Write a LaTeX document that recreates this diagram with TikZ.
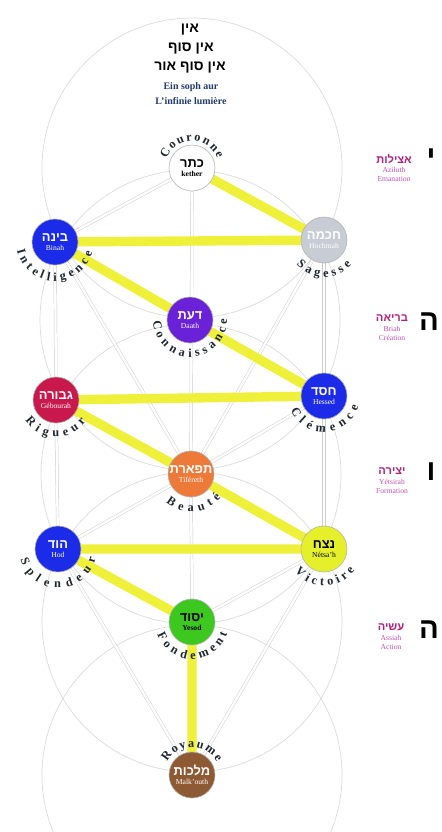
\documentclass[tikz,border=0pt]{standalone}
\usepackage{fontspec}
\setmainfont{Liberation Serif}
\newfontfamily\hebfont[Script=Hebrew]{Liberation Sans}
\usetikzlibrary{decorations.text,backgrounds}
\TeXXeTstate=1
\definecolor{sblue}{HTML}{1C2BE8}
\definecolor{sviolet}{HTML}{6A22D8}
\definecolor{scrimson}{HTML}{C8184C}
\definecolor{sorange}{HTML}{EE7A3A}
\definecolor{syellow}{HTML}{E6F02A}
\definecolor{sgreen}{HTML}{3CC81E}
\definecolor{sbrown}{HTML}{8E5A34}
\definecolor{sgray}{HTML}{C8CCD4}
\definecolor{flash}{HTML}{EEF03A}
\definecolor{lblgray}{HTML}{1E2630}
\definecolor{worldmag}{HTML}{B0207A}
\definecolor{worldpink}{HTML}{C050B0}
\definecolor{einblue}{HTML}{1E3A6A}
\newcommand\heb[1]{{\hebfont\beginR #1\endR}}
\newcommand\lblfont{\fontsize{10.5}{10.5}\selectfont\bfseries\color{lblgray}}
\newcommand\arclabel[5]{\path[decorate,decoration={text along path,text align={fit to path},text={|\lblfont|#5}}] ([shift={(#2:#4)}]#1.center) arc[start angle=#2,end angle=#3,radius=#4];}

\begin{document}
\begin{tikzpicture}[
    x=0.03cm, y=0.03cm,
    sefira/.style={circle, draw=gray!60, line width=0.5pt, minimum size=1.38cm, inner sep=0pt, align=center, font=\fontsize{6.5}{7.5}\selectfont, text=white},
    halo/.style={draw=gray!28, line width=0.6pt},
    channel/.style={draw=gray!40, double=white, double distance=2pt, line width=0.4pt},
    bolt/.style={line width=8pt, color=flash, line join=round},
    world/.style={align=center, font=\fontsize{6.5}{8}\selectfont, text=worldpink},
    yhvh/.style={font=\fontsize{25}{25}\selectfont\bfseries}
]
    \useasboundingbox (0,0) rectangle (441,-832);

    % Ein soph
    \node[font=\fontsize{12}{12}\selectfont\bfseries] (ain) at (190,-30) {\heb{אין}};
    \node[font=\fontsize{12}{12}\selectfont\bfseries] (ainsof) at (191,-49) {\heb{אין סוף}};
    \node[font=\fontsize{12}{12}\selectfont\bfseries] (ainsofaur) at (190,-68) {\heb{אין סוף אור}};
    \node[font=\fontsize{8.5}{9}\selectfont\bfseries, text=einblue] (einsoph) at (191,-87) {Ein soph aur};
    \node[font=\fontsize{8.5}{9}\selectfont\bfseries, text=einblue] (lumiere) at (191,-101) {L'infinie lumière};

    % Sefirot
    \node[sefira, fill=white, text=black] (kether) at (192,-168) {{\fontsize{11}{12}\selectfont\bfseries\heb{כתר}}\\\textbf{kether}};
    \node[sefira, fill=sgray] (chokmah) at (324,-240) {{\fontsize{11}{12}\selectfont\bfseries\heb{חכמה}}\\Hochmah};
    \node[sefira, fill=sblue] (binah) at (55,-242) {{\fontsize{11}{12}\selectfont\bfseries\heb{בינה}}\\Binah};
    \node[sefira, fill=sviolet] (daath) at (190,-320) {{\fontsize{11}{12}\selectfont\bfseries\heb{דעת}}\\Daath};
    \node[sefira, fill=scrimson] (gevourah) at (56,-400) {{\fontsize{11}{12}\selectfont\bfseries\heb{גבורה}}\\Gébourah};
    \node[sefira, fill=sblue] (hessed) at (324,-396) {{\fontsize{11}{12}\selectfont\bfseries\heb{חסד}}\\Hessed};
    \node[sefira, fill=sorange] (tiferet) at (191,-474) {{\fontsize{11}{12}\selectfont\bfseries\heb{תפארת}}\\Tiféreth};
    \node[sefira, fill=sblue] (hod) at (58,-549) {{\fontsize{11}{12}\selectfont\bfseries\heb{הוד}}\\Hod};
    \node[sefira, fill=syellow, text=black] (netsah) at (324,-549) {{\fontsize{11}{12}\selectfont\bfseries\heb{נצח}}\\Nétsa'h};
    \node[sefira, fill=sgreen, text=black] (yesod) at (192,-622) {{\fontsize{11}{12}\selectfont\bfseries\heb{יסוד}}\\\textbf{Yesod}};
    \node[sefira, fill=sbrown] (malkuth) at (192,-775) {{\fontsize{11}{12}\selectfont\bfseries\heb{מלכות}}\\Malk'outh};

    % Names round the sefirot
    \arclabel{kether}{160}{20}{27}{Couronne}
    \arclabel{binah}{193}{344}{39}{Intelligence}
    \arclabel{chokmah}{222}{318}{37}{Sagesse}
    \arclabel{daath}{182}{362}{37}{Connaissance}
    \arclabel{gevourah}{214}{324}{37}{Rigueur}
    \arclabel{hessed}{203}{343}{36}{Clémence}
    \arclabel{tiferet}{229}{322}{38}{Beauté}
    \arclabel{hod}{196}{346}{39}{Splendeur}
    \arclabel{netsah}{218}{326}{37}{Victoire}
    \arclabel{yesod}{200}{342}{37}{Fondement}
    \arclabel{malkuth}{152}{28}{28}{Royaume}

    % Worlds
    \node[world] (aziluth) at (394,-168) {{\fontsize{9.5}{10.5}\selectfont\bfseries\color{worldmag}\heb{אצילות}}\\Aziluth\\Emanation};
    \node[world] (briah) at (392,-328) {{\fontsize{9.5}{10.5}\selectfont\bfseries\color{worldmag}\heb{בריאה}}\\Briah\\Création};
    \node[world] (yetsirah) at (392,-481) {{\fontsize{9.5}{10.5}\selectfont\bfseries\color{worldmag}\heb{יצירה}}\\Yétsirah\\Formation};
    \node[world] (assiah) at (391,-637) {{\fontsize{9.5}{10.5}\selectfont\bfseries\color{worldmag}\heb{עשיה}}\\Assiah\\Action};

    \node[yhvh] (yod) at (431,-158) {\heb{י}};
    \node[yhvh] (he) at (429,-322) {\heb{ה}};
    \node[yhvh] (vav) at (431,-472) {\heb{ו}};
    \node[yhvh] (helast) at (429,-630) {\heb{ה}};

    \begin{scope}[on background layer]
    % Circles
    \foreach \s in {kether,daath,tiferet,yesod,malkuth}
        \draw[halo] (\s.center) circle[radius=150];

    % Paths
    \foreach \a/\b in {kether/chokmah, kether/binah, kether/tiferet, chokmah/binah, chokmah/tiferet,
        chokmah/hessed, binah/tiferet, binah/gevourah, hessed/gevourah, hessed/tiferet, hessed/netsah,
        gevourah/tiferet, gevourah/hod, tiferet/netsah, tiferet/hod, tiferet/yesod, netsah/hod,
        netsah/yesod, netsah/malkuth, hod/yesod, hod/malkuth, yesod/malkuth}
        \draw[channel] (\a) -- (\b);

    % Lightning flash
    \draw[bolt] (kether.center) -- (chokmah.center) -- (binah.center) -- (daath.center) -- (hessed.center)
        -- (gevourah.center) -- (tiferet.center) -- (netsah.center) -- (hod.center) -- (yesod.center)
        -- (malkuth.center);
    \end{scope}

\end{tikzpicture}
\end{document}
